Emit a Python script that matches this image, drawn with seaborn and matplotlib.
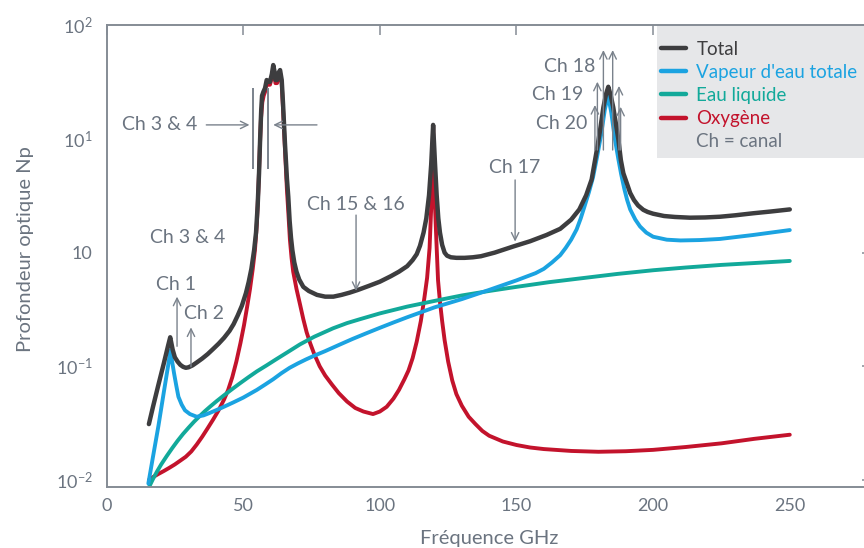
import numpy as np
import pandas as pd
import matplotlib
matplotlib.use("Agg")
import matplotlib.pyplot as plt
import seaborn as sns
from matplotlib.lines import Line2D
from matplotlib.patches import Rectangle
from matplotlib.ticker import FixedLocator, NullLocator

# ---------------- data ----------------
freq_total = [15.5, 17, 19, 21, 22.5, 23.3, 24.2, 25, 26, 27, 28, 29, 30, 31.5, 33, 35, 37, 39, 41, 43,
              45, 46.5, 48, 49.5, 51, 52, 53, 54, 54.7, 55.3, 55.8, 56.2, 56.6, 56.9, 57.4, 58.0, 58.6,
              59.3, 59.8, 60.5, 61.0, 61.5, 61.8, 62.4, 63.1, 63.5, 64.1, 64.6, 65.3, 66.0, 66.5, 67,
              67.5, 68, 68.7, 69.5, 70.5, 72, 74, 77, 80, 83, 86, 89, 92, 96, 100, 104, 107, 110, 112,
              113.5, 114.7, 116, 117, 118, 118.8, 119.5, 120.2, 120.8, 121.4, 122, 122.8, 123.7, 124.6,
              126, 128, 131, 134, 137, 142, 148.7, 155, 161, 166, 170, 173, 175.5, 177.5, 179.4, 180.6,
              181.8, 182.8, 183.6, 184.5, 185.4, 186.3, 187.3, 188.2, 189.1, 190.5, 191.6, 193, 194.5,
              196.4, 198, 200, 204, 208, 213.5, 219, 224.5, 230, 236.6, 243, 250]
total = [0.031, 0.044, 0.069, 0.107, 0.151, 0.18, 0.14, 0.12, 0.11, 0.103, 0.099, 0.097, 0.098, 0.102,
         0.108, 0.117, 0.128, 0.142, 0.158, 0.178, 0.205, 0.235, 0.28, 0.34, 0.44, 0.55, 0.72, 1.05, 1.5,
         2.6, 5.0, 10, 18, 24, 26, 28, 33, 31.8, 31.8, 37.3, 44.7, 38.8, 33, 33, 38.8, 40.4, 33, 20, 9,
         4.5, 3.1, 1.9, 1.35, 1.05, 0.82, 0.68, 0.58, 0.5, 0.46, 0.425, 0.41, 0.41, 0.425, 0.445, 0.47,
         0.51, 0.555, 0.62, 0.68, 0.76, 0.86, 0.97, 1.15, 1.5, 2.0, 3.2, 6, 13.3, 6, 3.2, 2.0, 1.5, 1.17,
         1.0, 0.94, 0.91, 0.9, 0.9, 0.91, 0.93, 1.0, 1.13, 1.26, 1.43, 1.62, 1.95, 2.4, 3.2, 4.4, 8, 12,
         19, 25, 28.8, 24, 19, 14, 9.8, 6.5, 5.0, 4.0, 3.35, 2.9, 2.6, 2.38, 2.28, 2.2, 2.1, 2.06, 2.03,
         2.04, 2.07, 2.13, 2.22, 2.3, 2.4]

freq_vapour = [15.3, 17, 19, 21, 22.5, 23.4, 24, 24.7, 25.5, 26.3, 27.5, 28.7, 30.5, 33, 35.5, 37.9, 42,
               46.3, 50, 55, 58, 61, 64, 67, 70, 73, 76, 80, 85, 90, 95, 100, 105, 110, 120, 130, 140,
               150, 157, 160, 163, 166, 168, 170, 172, 173.5, 175, 176.5, 178, 179.5, 181, 182.3, 183.5,
               184.7, 186, 187.3, 188.3, 189.5, 190.5, 191.6, 193.5, 195.2, 197.5, 200, 205, 210, 217,
               224.5, 236.6, 250]
vapour = [0.0093, 0.016, 0.03, 0.06, 0.1, 0.139, 0.11, 0.087, 0.068, 0.054, 0.046, 0.041, 0.038, 0.036,
          0.037, 0.039, 0.043, 0.048, 0.053, 0.062, 0.069, 0.077, 0.087, 0.097, 0.106, 0.115, 0.124,
          0.136, 0.154, 0.174, 0.195, 0.218, 0.243, 0.27, 0.33, 0.39, 0.47, 0.57, 0.66, 0.72, 0.82, 0.95,
          1.1, 1.3, 1.6, 2.0, 2.6, 3.4, 4.6, 7, 11, 18, 24.4, 17, 10, 6.6, 4.9, 3.6, 2.9, 2.4, 1.95, 1.7,
          1.5, 1.38, 1.3, 1.28, 1.29, 1.32, 1.43, 1.58]

freq_liquid = [15.6, 17, 18.5, 20, 22, 24, 26, 28, 30, 32, 34, 36, 38, 40.3, 43, 46, 48.8, 52, 55, 58.6,
               62, 66, 70.8, 76, 82.9, 88, 92.8, 100, 110, 120, 130, 140, 150, 162, 175, 187, 200, 212,
               225, 237, 250]
liquid = [0.0087, 0.0102, 0.0119, 0.0137, 0.0162, 0.019, 0.0221, 0.0254, 0.0288, 0.0325, 0.0363, 0.0403,
          0.0444, 0.0494, 0.0556, 0.0631, 0.0708, 0.0804, 0.0902, 0.102, 0.115, 0.132, 0.156, 0.182,
          0.216, 0.24, 0.26, 0.292, 0.335, 0.376, 0.42, 0.46, 0.5, 0.55, 0.6, 0.65, 0.7, 0.74, 0.78,
          0.81, 0.845]

freq_oxygen = [15.5, 17, 19, 21, 23, 25, 27, 29, 31, 33, 35, 37, 39, 41, 43, 44.5, 46, 47.5, 49, 50.3,
               51.5, 52.5, 53.5, 54.3, 55, 55.6, 56.1, 56.5, 57, 57.5, 58.0, 58.6, 59.3, 59.8, 60.5, 61.0,
               61.5, 61.8, 62.4, 63.1, 63.5, 64.1, 64.6, 65.3, 66, 66.5, 67.1, 67.7, 68.3, 69.5, 70.8, 72,
               73.2, 74.5, 76, 78, 80, 82.5, 85, 88, 91, 94, 97.5, 100, 102.5, 105, 107, 109, 110.5, 112,
               113.5, 115, 116.3, 117.3, 118.2, 118.8, 119.2, 119.5, 119.8, 120.2, 120.8, 121.3, 122,
               122.8, 123.7, 125, 126.5, 128, 130, 132.5, 135, 137.5, 140, 145, 150, 155, 160, 170, 180,
               190, 200, 212, 225, 237, 250]
oxygen = [0.0100, 0.0106, 0.0113, 0.012, 0.0128, 0.0137, 0.0148, 0.016, 0.0178, 0.0205, 0.024, 0.0285,
          0.034, 0.041, 0.051, 0.062, 0.08, 0.11, 0.16, 0.23, 0.34, 0.48, 0.72, 1.05, 1.8, 3.8, 8.5, 15,
          21, 24, 26, 31, 30, 30, 35, 42, 36, 31, 31, 36, 38, 31, 18, 8, 3.6, 2.3, 1.3, 0.9, 0.68, 0.48,
          0.35, 0.26, 0.2, 0.16, 0.128, 0.1, 0.083, 0.069, 0.058, 0.049, 0.043, 0.04, 0.038, 0.04, 0.044,
          0.052, 0.062, 0.077, 0.092, 0.118, 0.165, 0.25, 0.4, 0.6, 1.1, 2.5, 6, 13, 6, 2.5, 1.1, 0.57,
          0.37, 0.25, 0.17, 0.11, 0.075, 0.057, 0.045, 0.036, 0.031, 0.027, 0.0245, 0.0218, 0.0203,
          0.0193, 0.0187, 0.018, 0.0177, 0.0179, 0.0184, 0.0195, 0.021, 0.023, 0.025]

series_names = ["Total", "Vapeur d'eau totale", "Eau liquide", "Oxygène"]
legend_extra = "Ch = canal"
x_ticks = [0, 50, 100, 150, 200, 250, 300]
y_ticks = [0.01, 0.1, 1, 10, 100]
y_tick_labels = [r"$\mathregular{10^{-2}}$", r"$\mathregular{10^{-1}}$", "10",
                 r"$\mathregular{10^{1}}$", r"$\mathregular{10^{2}}$"]
x_label = "Fréquence GHz"
y_label = "Profondeur optique Np"

# ---------------- style ----------------
colors = {"Total": "#3d3d3f", "Vapeur d'eau totale": "#1ba3e1",
          "Eau liquide": "#12a99a", "Oxygène": "#c3132c"}
grey_txt = "#6b7480"
grey_ax = "#858c95"

sns.set_theme(style="white")
plt.rcParams["font.family"] = ["Lato", "DejaVu Sans"]
plt.rcParams["axes.unicode_minus"] = True

df = pd.concat([
    pd.DataFrame({"freq": freq_oxygen, "val": oxygen, "serie": "Oxygène"}),
    pd.DataFrame({"freq": freq_liquid, "val": liquid, "serie": "Eau liquide"}),
    pd.DataFrame({"freq": freq_vapour, "val": vapour, "serie": "Vapeur d'eau totale"}),
    pd.DataFrame({"freq": freq_total, "val": total, "serie": "Total"}),
], ignore_index=True)

fig = plt.figure(figsize=(8.64, 5.48), dpi=100)
ax = fig.add_axes([0.1233, 0.1113, 0.8857, 0.8425])

sns.lineplot(data=df, x="freq", y="val", hue="serie", palette=colors, sort=False,
             estimator=None, linewidth=2.8, legend=False, ax=ax,
             hue_order=["Oxygène", "Eau liquide", "Vapeur d'eau totale", "Total"])
for ln in ax.get_lines():
    ln.set_solid_capstyle("round")
    ln.set_solid_joinstyle("round")
ax.get_lines()[-1].set_linewidth(3.2)

ax.set_yscale("log")
ax.set_xlim(0, 280)
ax.set_ylim(10 ** -2.062, 100)
ax.xaxis.set_major_locator(FixedLocator(x_ticks))
ax.yaxis.set_major_locator(FixedLocator(y_ticks))
ax.yaxis.set_minor_locator(NullLocator())
ax.set_yticklabels(y_tick_labels)
ax.tick_params(which="both", direction="in", top=True, right=True, length=7.5, width=1.1,
               color=grey_ax, labelcolor=grey_txt, labelsize=13)
ax.tick_params(axis="y", pad=10)
ax.tick_params(axis="x", pad=8)
for sp in ax.spines.values():
    sp.set_color(grey_ax)
    sp.set_linewidth(1.4)

ax.set_xlabel(x_label, fontsize=14.5, color=grey_txt)
ax.set_ylabel(y_label, fontsize=14.5, color=grey_txt)
ax.xaxis.set_label_coords(0.5, -0.094)
ax.yaxis.set_label_coords(-0.095, 0.515)

# ---------------- annotations ----------------
ann_color = "#7a828c"
arrow_kw = dict(arrowstyle="->,head_length=0.45,head_width=0.22", color=ann_color, lw=1.0,
                shrinkA=0, shrinkB=0)
fs_ann = 14


def arrow(x0, y0, x1, y1):
    ax.annotate("", xy=(x1, y1), xytext=(x0, y0), arrowprops=arrow_kw, zorder=3)


ax.text(5.7, 13.3, "Ch 3 & 4", fontsize=fs_ann, color=grey_txt, ha="left", va="center")
arrow(36.5, 13.3, 52.3, 13.3)
arrow(77.0, 13.3, 61.0, 13.3)
ax.vlines([53.6, 59.1], 5.45, 28.1, color=ann_color, lw=1.4, zorder=3)

ax.text(29.6, 1.37, "Ch 3 & 4", fontsize=fs_ann, color=grey_txt, ha="center", va="center")
ax.text(25.4, 0.52, "Ch 1", fontsize=fs_ann, color=grey_txt, ha="center", va="center")
arrow(25.8, 0.15, 25.8, 0.41)
ax.text(35.5, 0.29, "Ch 2", fontsize=fs_ann, color=grey_txt, ha="center", va="center")
arrow(30.9, 0.099, 30.9, 0.22)

ax.text(91.1, 2.63, "Ch 15 & 16", fontsize=fs_ann, color=grey_txt, ha="center", va="center")
arrow(91.3, 2.14, 91.3, 0.46)
ax.text(149.5, 5.56, "Ch 17", fontsize=fs_ann, color=grey_txt, ha="center", va="center")
arrow(149.5, 4.36, 149.5, 1.25)

ax.text(178.7, 43, "Ch 18", fontsize=fs_ann, color=grey_txt, ha="right", va="center")
ax.text(174.4, 24.4, "Ch 19", fontsize=fs_ann, color=grey_txt, ha="right", va="center")
ax.text(175.8, 13.8, "Ch 20", fontsize=fs_ann, color=grey_txt, ha="right", va="center")
for xa, ytop in [(181.8, 60.6), (185.2, 60.6), (179.6, 31.9), (187.5, 29.3), (178.7, 19.9), (188.1, 19.2)]:
    arrow(xa, 8.0, xa, ytop)

# ---------------- legend ----------------
ax.add_patch(Rectangle((0.7194, 0.713), 0.2806, 0.287, transform=ax.transAxes,
                       facecolor="#e6e7e9", edgecolor="none", zorder=1))
handles = [Line2D([0], [0], color=colors[n], lw=3.2, solid_capstyle="round") for n in series_names]
handles.append(Line2D([0], [0], color="none", lw=0))
labels = series_names + [legend_extra]
leg = ax.legend(handles, labels, loc="upper left", bbox_to_anchor=(0.7194, 0.975), frameon=False,
                fontsize=13.5, handlelength=1.35, handletextpad=0.55, labelspacing=0.33,
                borderaxespad=0.0, borderpad=0.2,
                labelcolor=[colors[n] for n in series_names] + [grey_txt])
leg.set_zorder(6)

fig.savefig("out.png", dpi=100)
